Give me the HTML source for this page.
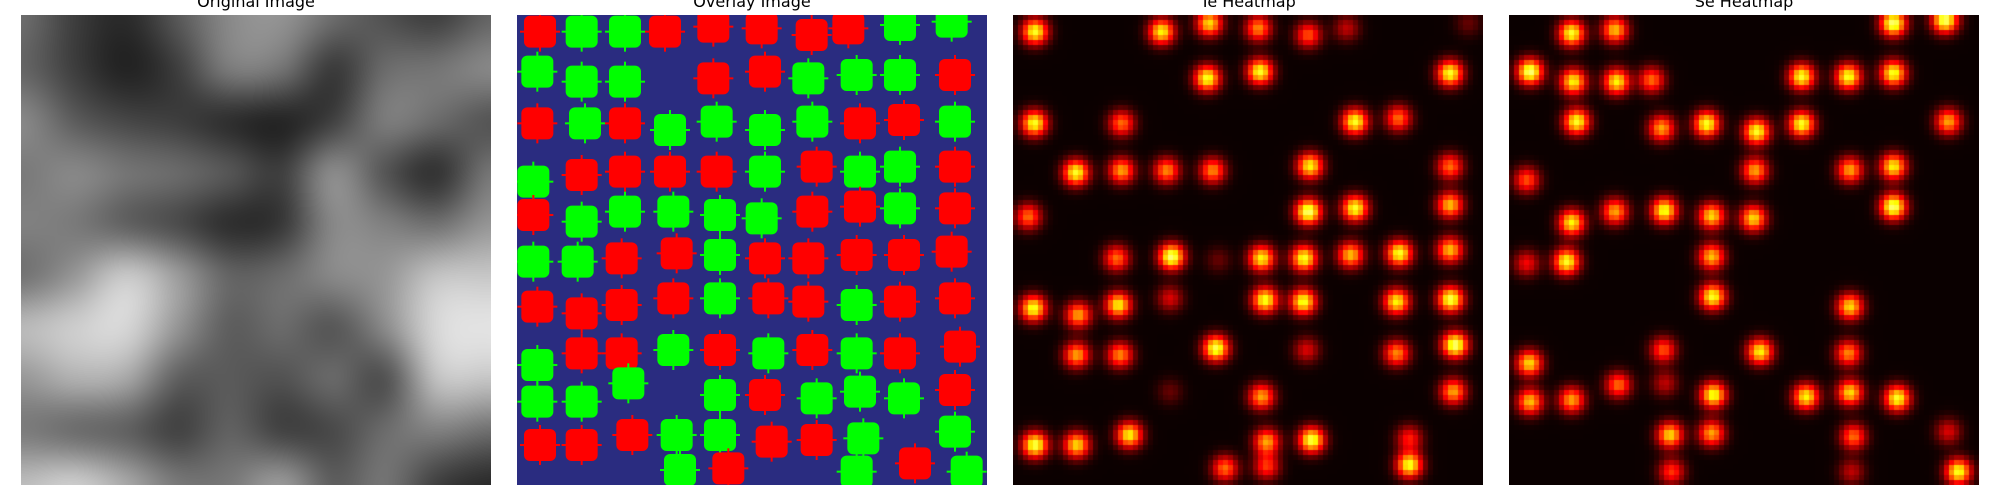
<!DOCTYPE html>
<html><head><meta charset="utf-8"><style>
html,body{margin:0;padding:0;background:#fff;width:2000px;height:500px;overflow:hidden}
#root{position:relative;width:2000px;height:500px}
canvas,svg{position:absolute}
.title{position:absolute;font-family:"DejaVu Sans","Liberation Sans",sans-serif;font-size:16px;color:#000;white-space:nowrap;transform:translateX(-50%);top:-8px}
</style></head><body>
<div id="root">
<div class="title" style="left:256px">Original Image</div>
<div class="title" style="left:752px">Overlay Image</div>
<div class="title" style="left:1248px">Te Heatmap</div>
<div class="title" style="left:1744px">Se Heatmap</div>
<canvas id="orig" width="470" height="470" style="left:21px;top:15px"></canvas>
<svg id="overlay" width="470" height="470" style="left:517px;top:15px"></svg>
<canvas id="te" width="470" height="470" style="left:1013px;top:15px"></canvas>
<canvas id="se" width="470" height="470" style="left:1509px;top:15px"></canvas>
</div>
<script>
// Original image brightness grid (10x10)
const origGrid = [
[110,60,40,90,140,150,110,80,60,100],
[100,60,30,60,130,120,50,110,120,140],
[140,90,70,60,40,30,60,130,110,80],
[120,140,120,110,90,60,150,80,40,120],
[130,120,90,70,40,50,140,130,110,150],
[110,150,210,160,100,110,140,150,200,200],
[190,210,220,150,90,110,80,140,220,230],
[150,180,170,90,90,80,110,70,200,200],
[120,100,90,60,100,60,70,110,130,110],
[190,210,170,120,120,160,90,120,60,40]];
// Overlay detections: x, y (image units 0..470 via zoom coords), class
const ovX = [120,245,375,495,640,785,935,1045,1200,1355, 112,245,375,640,795,925,1070,1200,1365, 112,255,375,510,650,795,937,1080,1212,1365, 100,245,375,510,650,795,950,1080,1200,1365, 100,245,375,520,660,785,937,1080,1200,1365, 100,233,365,530,660,795,925,1070,1212,1355, 112,245,365,520,660,805,925,1070,1200,1365, 112,245,365,520,660,805,937,1070,1200,1380, 112,245,385,660,795,950,1080,1212,1365, 120,245,397,530,660,815,950,1090,1365, 540,685,1070,1245,1400];
const ovY = [95,95,95,95,80,85,105,85,75,65, 215,245,245,235,215,235,225,225,225, 370,370,370,390,365,390,365,370,360,365, 545,525,515,515,515,515,500,515,500,500, 645,665,635,635,645,655,635,620,625,625, 785,785,775,760,765,775,775,765,765,755, 920,940,915,895,895,895,905,915,905,895, 1095,1060,1060,1050,1050,1060,1050,1060,1060,1040, 1205,1205,1150,1185,1185,1195,1175,1195,1170, 1335,1335,1305,1305,1305,1325,1320,1315,1295, 1410,1405,1415,1390,1415];
const ovC = "RGGRRRRRGG"+"GGGRRGGGR"+"RGRGGGGRRG"+"GRRRRGRGGR"+"RGGGGGRRGR"+"GGRRGRRRRR"+"RRRRGRRGRR"+"GRRGRGRGRR"+"GGGGRGGGR"+"RRRGGRRGG"+"GRGRG";
// Te heatmap peaks
const teX = [105,485,628,775,925,1040,1405,622,780,1350,103,365,1065,1195,228,365,500,638,930,1350,85,925,1065,1350,350,515,655,785,912,1052,1198,1350,100,235,355,510,795,910,1190,1352,230,360,648,920,1190,1365,510,785,1360,105,230,388,800,935,1228,675,800,1228];
const teY = [95,95,70,85,105,85,70,235,215,220,370,370,365,355,518,512,512,512,498,500,650,635,625,615,775,770,780,775,775,765,760,750,925,945,915,895,900,905,905,898,1065,1065,1045,1050,1060,1035,1175,1190,1175,1335,1335,1305,1325,1320,1315,1405,1400,1395];
const teV = [.9,.85,.8,.65,.55,.3,.15,.9,.9,.9,.9,.6,.9,.6,.9,.7,.65,.65,.85,.6,.6,1,.9,.75,.6,1,.15,.85,.9,.75,.9,.75,.9,.7,.85,.35,.9,.9,.85,.95,.7,.65,.95,.35,.65,1,.15,.7,.7,.95,.8,.85,.7,.95,.45,.6,.5,.9];
// Se heatmap peaks
const seX = [215,345,1180,1335,90,220,350,455,905,1045,1180,230,485,620,770,905,1345,80,765,1050,1180,215,345,493,635,760,1180,80,200,635,638,1050,490,780,1045,88,90,215,355,640,918,1050,1192,495,510,635,1060,1345,515,1055,1375];
const seY = [100,90,70,60,215,245,245,240,230,230,220,365,385,372,395,372,365,540,512,510,500,668,635,632,648,655,620,790,785,770,890,920,1050,1055,1060,1090,1205,1200,1155,1185,1190,1178,1195,1150,1305,1300,1310,1295,1415,1415,1415];
const seV = [.9,.75,1,1,1,.85,.85,.6,.9,.9,.9,.9,.7,.9,.9,.9,.7,.55,.7,.7,.85,.85,.7,.9,.8,.8,1,.4,.9,.75,.9,.8,.55,.85,.65,.8,.75,.7,.6,.9,.85,.8,.9,.3,.8,.7,.6,.35,.5,.3,.9];

// Original image
(function(){
  const c=document.getElementById('orig'),ctx=c.getContext('2d');
  const t=document.createElement('canvas');t.width=10;t.height=10;
  const tc=t.getContext('2d');const im=tc.createImageData(10,10);
  for(let r=0;r<10;r++)for(let k=0;k<10;k++){const v=origGrid[r][k],i=(r*10+k)*4;im.data[i]=v;im.data[i+1]=v;im.data[i+2]=v;im.data[i+3]=255;}
  tc.putImageData(im,0,0);
  ctx.imageSmoothingEnabled=true;ctx.imageSmoothingQuality='high';
  ctx.drawImage(t,-23,-23,516,516);
})();

// Overlay
const NS='http://www.w3.org/2000/svg';
const ov=document.getElementById('overlay');
function sx(z,off){return (z-off)/3;}
(function(){
  const bg=document.createElementNS(NS,'rect');
  bg.setAttribute('width',470);bg.setAttribute('height',470);bg.setAttribute('fill','#2a2c80');
  
  
  ov.appendChild(bg);
  for(let i=0;i<ovX.length;i++){
    const cx=sx(ovX[i],51),cy=sx(ovY[i],45);
    const col=ovC[i]==='R'?'#ff0000':'#00ff00';
    const g=document.createElementNS(NS,'g');
    
    
    g.setAttribute('fill',col);
    g.innerHTML='<rect x="'+(cx-16)+'" y="'+(cy-16)+'" width="32" height="32" rx="6"/>'+
      '<rect x="'+(cx-1)+'" y="'+(cy-20)+'" width="2" height="40"/>'+
      '<rect x="'+(cx-20)+'" y="'+(cy-1)+'" width="40" height="2"/>';
    ov.appendChild(g);
  }
})();

// Heatmaps
function hot(v){
  const r=Math.min(1,Math.max(0,v/0.365)),g=Math.min(1,Math.max(0,(v-0.365)/0.375)),b=Math.min(1,Math.max(0,(v-0.74)/0.26));
  return [r*255,g*255,b*255];
}
function heat(id,xs,ys,vs,xoff){
  const c=document.getElementById(id),ctx=c.getContext('2d');
  const N=94, s=470/N;
  const t=document.createElement('canvas');t.width=N;t.height=N;
  const tc=t.getContext('2d');const im=tc.createImageData(N,N);
  const sig=1.8;
  for(let y=0;y<N;y++)for(let x=0;x<N;x++){
    let v=0.015;
    const px=(x+0.5)*s,py=(y+0.5)*s;
    for(let i=0;i<xs.length;i++){
      const dx=(px-sx(xs[i],xoff))/s,dy=(py-sx(ys[i],45))/s;
      v+=0.85*vs[i]*Math.exp(-(dx*dx+dy*dy)/(2*sig*sig));
    }
    const [r,g,b]=hot(Math.min(1,v));
    const k=(y*N+x)*4;im.data[k]=r;im.data[k+1]=g;im.data[k+2]=b;im.data[k+3]=255;
  }
  tc.putImageData(im,0,0);
  ctx.imageSmoothingEnabled=false;
  ctx.drawImage(t,0,0,470,470);
}
heat('te',teX,teY,teV,39);
heat('se',seX,seY,seV,27);
</script>
</body></html>
